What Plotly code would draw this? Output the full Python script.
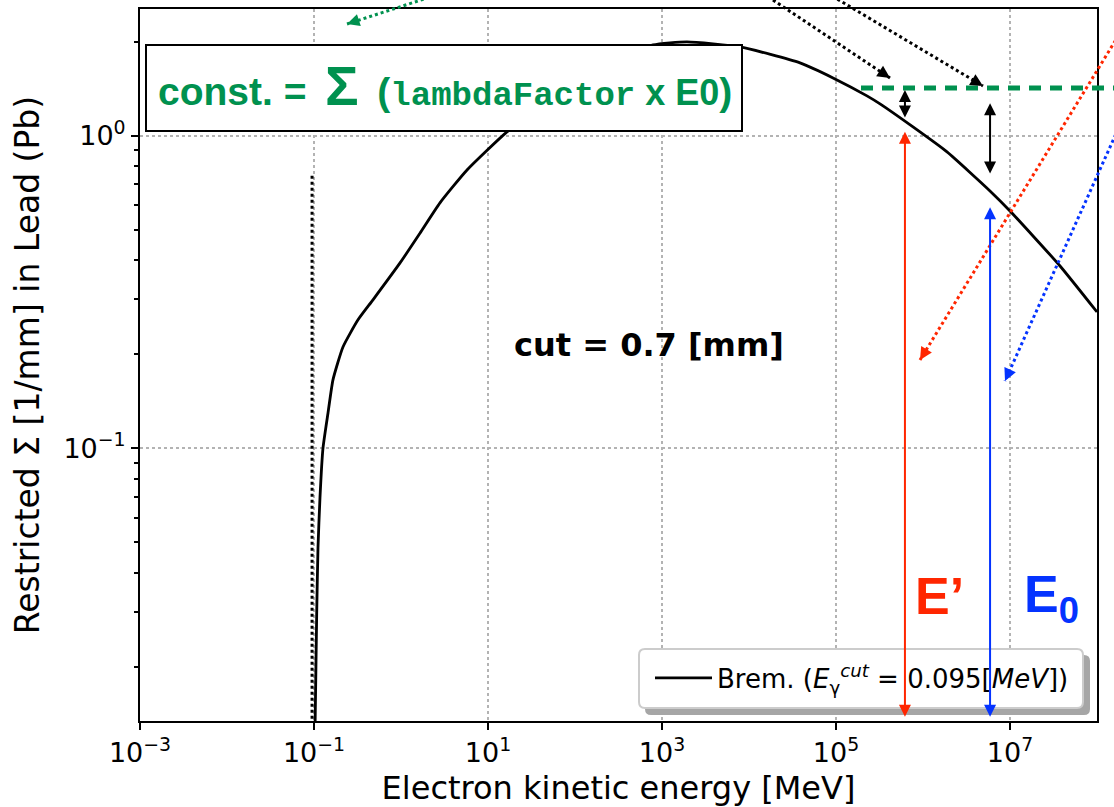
import math
import plotly.graph_objects as go

# ---------------- data ----------------
energy_mev = [0.1028, 0.1074, 0.1112, 0.1172, 0.1268, 0.1449, 0.1652, 0.2153, 0.3206,
              0.4764, 0.9750, 1.652, 2.805, 5.741, 16.52, 51.64, 193.6, 788.9, 1936.0,
              7889.0, 38550.0, 92470.0, 227000.0, 320600.0, 767400.0, 1888000.0, 5888000.0,
              1.0e7, 3.758e7, 1.0e8]
sigma_per_mm = [0.01259, 0.02972, 0.04831, 0.06982, 0.1000, 0.1297, 0.1656, 0.2109, 0.2576,
                0.2985, 0.3917, 0.4875, 0.6095, 0.7762, 1.028, 1.300, 1.648, 1.950, 1.995,
                1.922, 1.709, 1.530, 1.340, 1.263, 1.066, 0.8870, 0.6655,
                0.5742, 0.3830, 0.2729]

gamma_cut_mev = 0.095          # dotted vertical marker
gamma_cut_line_top = 0.748
E_prime_mev = 6.2e5            # E'
E0_mev = 5.9e6                 # E0
sigma_const = 1.42             # const. level (green dashed)

x_tick_vals = [1e-3, 1e-1, 1e1, 1e3, 1e5, 1e7]
x_tick_text = ["10<sup>\u22123</sup>", "10<sup>\u22121</sup>", "10<sup>1</sup>",
               "10<sup>3</sup>", "10<sup>5</sup>", "10<sup>7</sup>"]
y_tick_vals = [0.1, 1.0]
y_tick_text = ["10<sup>\u22121</sup>", "10<sup>0</sup>"]
y_minor_vals = [0.02, 0.03, 0.04, 0.05, 0.06, 0.07, 0.08, 0.09,
                0.2, 0.3, 0.4, 0.5, 0.6, 0.7, 0.8, 0.9, 2.0]

legend_name = "Brem. (<i>E</i><sub>\u03b3</sub><sup><i>cut</i></sup> = 0.095[<i>MeV</i>])"

# ---------------- geometry helpers ----------------
W, H = 1114, 807
PX0, PX1, PY0, PY1 = 140, 1097, 9, 721
XR = [-3.0, 8.0]
YR = [-1.872, 0.405]

def fx(p):
    return (p - PX0) / (PX1 - PX0)

def fy(p):
    return (PY1 - p) / (PY1 - PY0)

def fyd(v):
    return (math.log10(v) - YR[0]) / (YR[1] - YR[0])

GREEN = "#00914F"
RED = "#FF2600"
BLUE = "#0433FF"

fig = go.Figure()

fig.add_trace(go.Scatter(
    x=energy_mev, y=sigma_per_mm, mode="lines", name=legend_name,
    line=dict(color="black", width=2.8, shape="spline", smoothing=0.5),
    showlegend=True))

fig.add_trace(go.Scatter(
    x=[gamma_cut_mev, gamma_cut_mev], y=[0.0125, gamma_cut_line_top], mode="lines",
    line=dict(color="black", width=3, dash="dot"), showlegend=False, hoverinfo="skip"))

shapes = []
annotations = []

# green box with formula
shapes.append(dict(type="rect", xref="paper", yref="paper",
                   x0=fx(146), x1=fx(742), y0=fy(131), y1=fy(45),
                   line=dict(color="black", width=2), fillcolor="white", layer="above"))
SP = "\u00a0\u2009"
annotations.append(dict(
    xref="paper", yref="paper", x=fx(156), y=fy(86), xanchor="left", yanchor="middle",
    showarrow=False,
    text=("<b>const. =" + SP + "<span style='font-size:56px'>\u03a3</span>" + SP + "("
          "<span style=\"font-family:'Liberation Mono', monospace; font-size:34px\">lambdaFactor</span>"
          "<span style='font-size:36px'> x E0</span>)</b>"),
    font=dict(family="Liberation Sans, Arial", size=39, color=GREEN)))

# legend frame (shadow + rounded box)
def rrect(x0, y0, x1, y1, r):
    rx = r / (PX1 - PX0)
    ry = r / (PY1 - PY0)
    X0, X1, Y0, Y1 = fx(x0), fx(x1), fy(y1), fy(y0)
    return (f"M{X0+rx},{Y0} L{X1-rx},{Y0} Q{X1},{Y0} {X1},{Y0+ry} "
            f"L{X1},{Y1-ry} Q{X1},{Y1} {X1-rx},{Y1} L{X0+rx},{Y1} "
            f"Q{X0},{Y1} {X0},{Y1-ry} L{X0},{Y0+ry} Q{X0},{Y0} {X0+rx},{Y0} Z")

shapes.append(dict(type="path", xref="paper", yref="paper", path=rrect(645, 655, 1090, 715, 6),
                   line=dict(width=0), fillcolor="#a6a6a6", layer="above"))
shapes.append(dict(type="path", xref="paper", yref="paper", path=rrect(639, 649, 1083, 708, 6),
                   line=dict(color="#cccccc", width=2), fillcolor="white", layer="above"))

# green dashed const line
shapes.append(dict(type="line", xref="paper", yref="paper",
                   x0=fx(861), x1=fx(1114), y0=fyd(sigma_const), y1=fyd(sigma_const),
                   line=dict(color=GREEN, width=5, dash="12px,9px"), layer="above"))

# dotted pointer arrows (line as shape, head as annotation)
def dotted_arrow(start, tip, color):
    (sx, sy), (tx, ty) = start, tip
    shapes.append(dict(type="line", xref="paper", yref="paper",
                       x0=fx(sx), y0=fy(sy), x1=fx(tx), y1=fy(ty),
                       line=dict(color=color, width=3, dash="dot"), layer="above"))
    dx, dy = tx - sx, ty - sy
    n = math.hypot(dx, dy)
    annotations.append(dict(xref="paper", yref="paper", x=fx(tx), y=fy(ty),
                            ax=-dx / n * 13, ay=-dy / n * 13, text="", showarrow=True,
                            arrowhead=2, arrowsize=1.0, arrowwidth=2.5, arrowcolor=color,
                            standoff=0))

dotted_arrow((452, -10), (347, 24), GREEN)
dotted_arrow((758, -10), (890, 78), "black")
dotted_arrow((822, -10), (983, 86), "black")
dotted_arrow((1128, 20), (920, 360), RED)
dotted_arrow((1128, 107), (1005, 381), BLUE)

# vertical double arrows for E' and E0 (data coordinates)
def vdouble(xval, ytop, ybot, color, width=2, size=1.2):
    annotations.append(dict(xref="x", yref="y", axref="x", ayref="y",
                            x=math.log10(xval), y=math.log10(ytop),
                            ax=math.log10(xval), ay=math.log10(ybot),
                            text="", showarrow=True, arrowside="end+start",
                            arrowhead=2, startarrowhead=2, arrowsize=size, startarrowsize=size,
                            arrowwidth=width, arrowcolor=color, standoff=0, startstandoff=0))

ybottom = 10 ** (YR[0] + 0.009)
vdouble(E_prime_mev, 1.03, ybottom, RED)
vdouble(E0_mev, 0.59, ybottom, BLUE)
vdouble(E_prime_mev, 1.40, 1.13, "black")
vdouble(E0_mev, 1.27, 0.748, "black")

# texts
annotations.append(dict(xref="paper", yref="paper", x=fx(649), y=fy(345), showarrow=False,
                        text="<b>cut = 0.7 [mm]</b>", xanchor="center", yanchor="middle",
                        font=dict(family="DejaVu Sans", size=32, color="black")))
annotations.append(dict(xref="paper", yref="paper", x=fx(913), y=fy(596), showarrow=False,
                        text="<b>E\u2019</b>", xanchor="left", yanchor="middle",
                        font=dict(family="Liberation Sans, Arial", size=52, color=RED)))
annotations.append(dict(xref="paper", yref="paper", x=fx(1022), y=fy(598), showarrow=False,
                        text="<b>E<sub>0</sub></b>", xanchor="left", yanchor="middle",
                        font=dict(family="Liberation Sans, Arial", size=52, color=BLUE)))

axis_common = dict(
    type="log", showline=True, linecolor="black", linewidth=2, mirror=True,
    ticks="outside", ticklen=7, tickwidth=2, tickcolor="black", automargin=False,
    showgrid=True, gridcolor="#b3b3b3", griddash="dot", gridwidth=1.5,
    zeroline=False, tickfont=dict(family="DejaVu Sans", size=27, color="black"),
)

fig.update_layout(
    width=W, height=H, autosize=False,
    margin=dict(l=PX0, r=W - PX1, t=PY0, b=H - PY1),
    paper_bgcolor="white", plot_bgcolor="white",
    font=dict(family="DejaVu Sans", color="black"),
    xaxis=dict(axis_common, range=XR, tickmode="array", tickvals=x_tick_vals, ticktext=x_tick_text,
               title=dict(text="Electron kinetic energy [MeV]", standoff=30,
                          font=dict(family="DejaVu Sans", size=32, color="black"))),
    yaxis=dict(axis_common, range=YR, tickmode="array", tickvals=y_tick_vals, ticktext=y_tick_text,
               minor=dict(tickmode="array", tickvals=y_minor_vals, ticks="outside", ticklen=4,
                          tickwidth=1.5, tickcolor="black", showgrid=False),
               title=dict(text="Restricted \u03a3 [1/mm] in Lead (Pb)", standoff=14,
                          font=dict(family="DejaVu Sans", size=33, color="black"))),
    showlegend=True,
    legend=dict(x=fx(650), y=fy(678), xanchor="left", yanchor="middle", itemwidth=57,
                bgcolor="rgba(0,0,0,0)", borderwidth=0,
                font=dict(family="DejaVu Sans", size=26, color="black")),
    shapes=shapes, annotations=annotations,
)

fig.write_html("out.html")
